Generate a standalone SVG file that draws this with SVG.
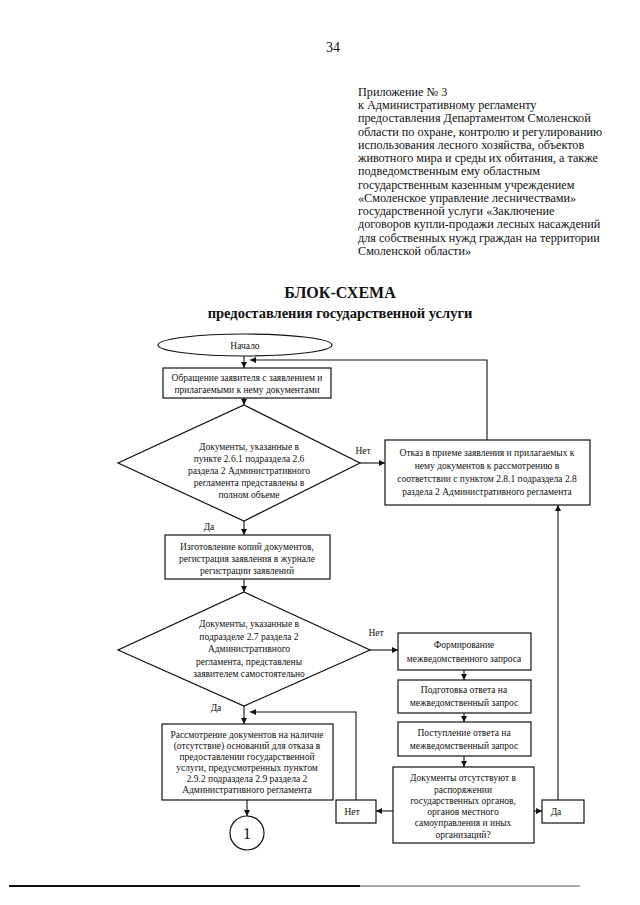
<svg xmlns="http://www.w3.org/2000/svg" width="640" height="905" viewBox="0 0 640 905">
<style>
text{font-family:"Liberation Serif","Times New Roman",serif;fill:#111}
.t{font-size:9.5px;text-anchor:middle}
.a{font-size:12.2px}
.s{fill:#fff;stroke:#111;stroke-width:1.2}
.c{fill:none;stroke:#111;stroke-width:1.1}
</style>
<defs>
<marker id="ar" viewBox="0 0 10 10" refX="10" refY="5" markerWidth="6" markerHeight="6" orient="auto" markerUnits="userSpaceOnUse">
<path d="M0,0 L10,5 L0,10 z" fill="#111"/>
</marker>
</defs>
<rect width="640" height="905" fill="#fff"/>
<text x="333" y="52" font-size="14" text-anchor="middle">34</text>
<g id="appendix">
<text class="a" x="358" y="96">Приложение № 3</text>
<text class="a" x="358" y="109">к Административному регламенту</text>
<text class="a" x="358" y="122">предоставления Департаментом Смоленской</text>
<text class="a" x="358" y="136">области по охране, контролю и регулированию</text>
<text class="a" x="358" y="149">использования лесного хозяйства, объектов</text>
<text class="a" x="358" y="162">животного мира и среды их обитания, а также</text>
<text class="a" x="358" y="175">подведомственным ему областным</text>
<text class="a" x="358" y="189">государственным казенным учреждением</text>
<text class="a" x="358" y="202">«Смоленское управление лесничествами»</text>
<text class="a" x="358" y="215">государственной услуги «Заключение</text>
<text class="a" x="358" y="228">договоров купли-продажи лесных насаждений</text>
<text class="a" x="358" y="242">для собственных нужд граждан на территории</text>
<text class="a" x="358" y="255">Смоленской области»</text>
</g>
<g id="title">
<text x="340" y="298" font-size="16" font-weight="bold" text-anchor="middle">БЛОК-СХЕМА</text>
<text x="340" y="318" font-size="14.5" font-weight="bold" text-anchor="middle">предоставления государственной услуги</text>
</g>
<g id="connectors">
<line class="c" x1="244" y1="356" x2="244" y2="368" marker-end="url(#ar)"/>
<polyline class="c" points="487,440 487,360 250,360" marker-end="url(#ar)"/>
<line class="c" x1="244" y1="398" x2="244" y2="405" marker-end="url(#ar)"/>
<line class="c" x1="360" y1="463" x2="385" y2="463" marker-end="url(#ar)"/>
<line class="c" x1="244" y1="521" x2="244" y2="535" marker-end="url(#ar)"/>
<line class="c" x1="244" y1="579" x2="244" y2="592" marker-end="url(#ar)"/>
<line class="c" x1="370" y1="650" x2="398" y2="650" marker-end="url(#ar)"/>
<line class="c" x1="464" y1="670" x2="464" y2="680" marker-end="url(#ar)"/>
<line class="c" x1="464" y1="713" x2="464" y2="722" marker-end="url(#ar)"/>
<line class="c" x1="464" y1="756" x2="464" y2="767" marker-end="url(#ar)"/>
<line class="c" x1="244" y1="706" x2="244" y2="724" marker-end="url(#ar)"/>
<polyline class="c" points="356,800 356,712 250,712" marker-end="url(#ar)"/>
<line class="c" x1="393" y1="811" x2="376" y2="811" marker-end="url(#ar)"/>
<line class="c" x1="534" y1="811" x2="542" y2="811" marker-end="url(#ar)"/>
<line class="c" x1="558" y1="800" x2="558" y2="505" marker-end="url(#ar)"/>
<line class="c" x1="247" y1="800" x2="247" y2="816" marker-end="url(#ar)"/>
</g>
<g id="start">
<ellipse class="s" cx="245" cy="345" rx="87" ry="11"/>
<text class="t" x="245" y="349">Начало</text>
</g>
<g id="apply">
<rect class="s" x="163" y="368" width="168" height="30"/>
<text class="t" x="247" y="381">Обращение заявителя с заявлением и</text>
<text class="t" x="247" y="393">прилагаемыми к нему документами</text>
</g>
<g id="check1">
<polygon class="s" points="244,405 360,463 244,521 118,463"/>
<text class="t" x="249" y="450">Документы, указанные в</text>
<text class="t" x="249" y="462">пункте 2.6.1 подраздела 2.6</text>
<text class="t" x="249" y="474">раздела 2 Административного</text>
<text class="t" x="249" y="486">регламента представлены в</text>
<text class="t" x="249" y="498">полном объеме</text>
<text class="t" x="363" y="454">Нет</text>
<text class="t" x="209" y="530">Да</text>
</g>
<g id="refuse">
<rect class="s" x="385" y="440" width="205" height="65"/>
<text class="t" x="487" y="456">Отказ в приеме заявления и прилагаемых к</text>
<text class="t" x="487" y="469">нему документов к рассмотрению в</text>
<text class="t" x="487" y="482">соответствии с пунктом 2.8.1 подраздела 2.8</text>
<text class="t" x="487" y="495">раздела 2 Административного регламента</text>
</g>
<g id="register">
<rect class="s" x="165" y="535" width="165" height="44"/>
<text class="t" x="247" y="550">Изготовление копий документов,</text>
<text class="t" x="247" y="562">регистрация заявления в журнале</text>
<text class="t" x="247" y="574">регистрации заявлений</text>
</g>
<g id="check2">
<polygon class="s" points="244,592 370,650 244,706 118,650"/>
<text class="t" x="249" y="627">Документы, указанные в</text>
<text class="t" x="249" y="640">подразделе 2.7 раздела 2</text>
<text class="t" x="249" y="652">Административного</text>
<text class="t" x="249" y="665">регламента, представлены</text>
<text class="t" x="249" y="677">заявителем самостоятельно</text>
<text class="t" x="376" y="636">Нет</text>
<text class="t" x="216" y="711">Да</text>
</g>
<g id="form-request">
<rect class="s" x="398" y="633" width="133" height="37"/>
<text class="t" x="464" y="648">Формирование</text>
<text class="t" x="464" y="662">межведомственного запроса</text>
</g>
<g id="prepare-answer">
<rect class="s" x="398" y="680" width="133" height="33"/>
<text class="t" x="464" y="693">Подготовка ответа на</text>
<text class="t" x="464" y="706">межведомственный запрос</text>
</g>
<g id="receive-answer">
<rect class="s" x="398" y="722" width="133" height="34"/>
<text class="t" x="464" y="736">Поступление ответа на</text>
<text class="t" x="464" y="749">межведомственный запрос</text>
</g>
<g id="check3">
<rect class="s" x="393" y="767" width="141" height="76"/>
<text class="t" x="463" y="781">Документы отсутствуют в</text>
<text class="t" x="463" y="793">распоряжении</text>
<text class="t" x="463" y="804">государственных органов,</text>
<text class="t" x="463" y="815">органов местного</text>
<text class="t" x="463" y="826">самоуправления и иных</text>
<text class="t" x="463" y="838">организаций?</text>
</g>
<g id="no-box">
<rect class="s" x="336" y="800" width="40" height="23"/>
<text class="t" x="352" y="815">Нет</text>
</g>
<g id="yes-box">
<rect class="s" x="542" y="800" width="42" height="23"/>
<text class="t" x="556" y="815">Да</text>
</g>
<g id="review">
<rect class="s" x="162" y="724" width="171" height="76"/>
<text class="t" x="247" y="738">Рассмотрение документов на наличие</text>
<text class="t" x="247" y="749">(отсутствие) оснований для отказа в</text>
<text class="t" x="247" y="760">предоставлении государственной</text>
<text class="t" x="247" y="771">услуги, предусмотренных пунктом</text>
<text class="t" x="247" y="782">2.9.2 подраздела 2.9 раздела 2</text>
<text class="t" x="247" y="793">Административного регламента</text>
</g>
<g id="connector-1">
<circle class="s" cx="247" cy="833" r="17"/>
<text x="247" y="839" font-size="16" text-anchor="middle">1</text>
</g>
<line x1="9" y1="886" x2="360" y2="886" stroke="#111" stroke-width="2"/>
<line x1="360" y1="886" x2="580" y2="886" stroke="#555" stroke-width="1.2"/>
</svg>
